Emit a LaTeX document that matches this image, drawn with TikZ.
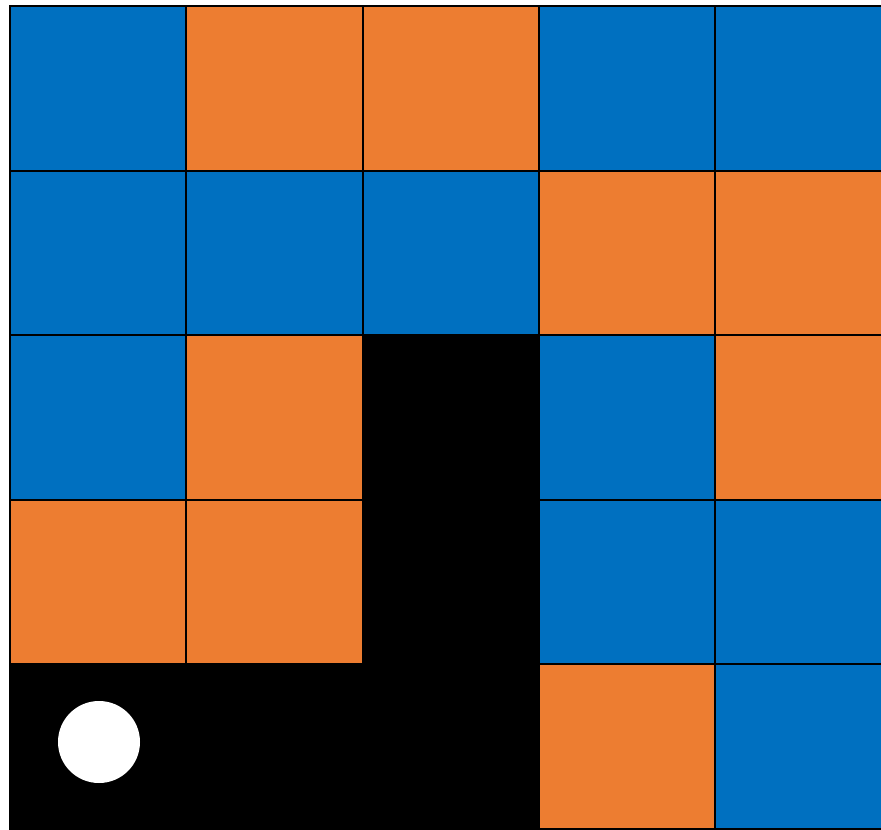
\documentclass[tikz,border=0pt]{standalone}
\usepackage{xcolor}
\usepackage{tikz}
\definecolor{tileblue}{HTML}{0070C0}
\definecolor{tileorange}{HTML}{ED7D31}
\definecolor{wall}{HTML}{000000}

\begin{document}
\begin{tikzpicture}[x=1pt,y=-1pt,
    tile/.style={draw=black,line width=2pt,inner sep=0pt,outer sep=0pt,
                 minimum width=176.25pt,minimum height=164.6pt,anchor=north west}]
  \useasboundingbox (0,0) rectangle (881,830);
  \clip (0,0) rectangle (881,830);
  % the board, row by row
  \foreach \cl [count=\r from 0] in {%
      {tileblue,tileorange,tileorange,tileblue,tileblue},
      {tileblue,tileblue,tileblue,tileorange,tileorange},
      {tileblue,tileorange,wall,tileblue,tileorange},
      {tileorange,tileorange,wall,tileblue,tileblue},
      {wall,wall,wall,tileorange,tileblue}}{
    \foreach \c [count=\i from 0] in \cl {
      \node[tile,fill=\c] (t\r\i) at ({10+176.25*\i},{6+164.6*\r}) {};
    }
  }
  % the wall cells have no inner lines
  \fill[wall] (t22.north west) rectangle (t42.south east);
  \fill[wall] (t40.north west) rectangle (t42.south east);
  % the ball
  \node[circle,fill=white,minimum size=82pt,inner sep=0pt] (ball) at (99,742) {};
\end{tikzpicture}
\end{document}
